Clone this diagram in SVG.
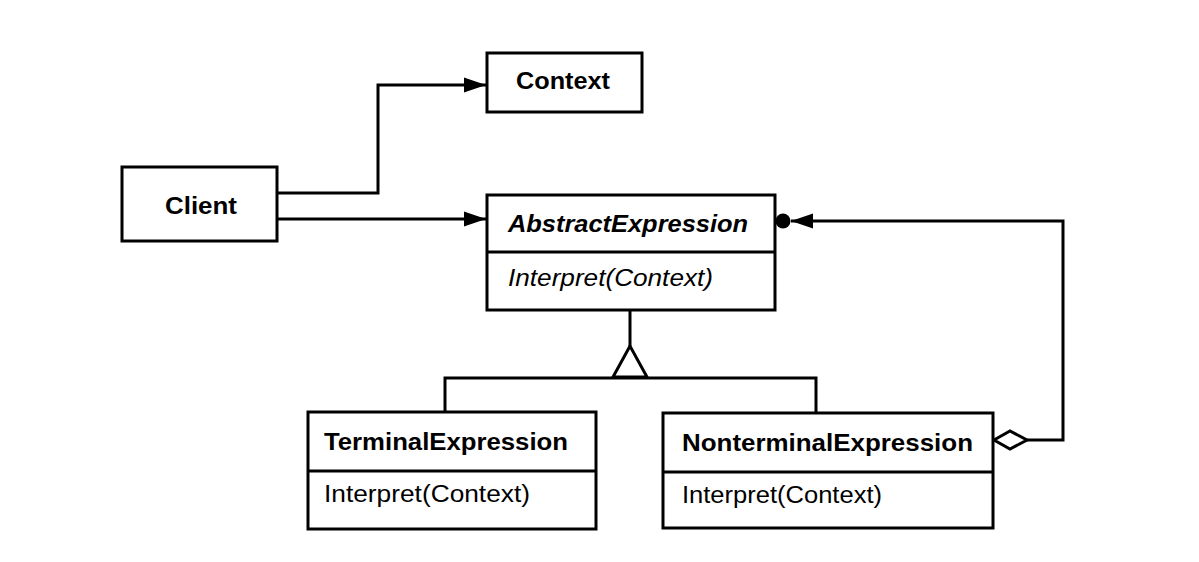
<svg xmlns="http://www.w3.org/2000/svg" width="1199" height="562" viewBox="0 0 1199 562">
<style>
.box{fill:#fff;stroke:#000;stroke-width:3}
.ln{fill:none;stroke:#000;stroke-width:3}
.t{font-family:"Liberation Sans",Arial,sans-serif;font-size:23px;fill:#000}
.b{font-weight:bold}
.i{font-style:italic}
</style>
<defs>
<marker id="arr" markerUnits="userSpaceOnUse" markerWidth="24" markerHeight="16" refX="22" refY="8" orient="auto">
<path d="M0,0.5 L22,8 L0,15.5 Z" fill="#000"/>
</marker>
</defs>
<rect width="1199" height="562" fill="#fff"/>
<g id="connectors">
<path class="ln" d="M277,193 H378 V85 H486" marker-end="url(#arr)"/>
<path class="ln" d="M277,219 H486" marker-end="url(#arr)"/>
<path class="ln" d="M1027,440 H1063 V221 H791" marker-end="url(#arr)"/>
<circle cx="783" cy="221" r="7.5" fill="#000"/>
<path class="ln" d="M994,440 L1010,431 L1027,440 L1010,449 Z" style="fill:#fff"/>
<path class="ln" d="M630,310 V346"/>
<path class="ln" d="M630,346 L613,377 L647,377 Z" style="fill:#fff"/>
<path class="ln" d="M445,412 V378 H816 V413"/>
</g>
<g id="client">
<rect class="box" x="122" y="167" width="155" height="74"/>
<text class="t b" x="201" y="214" text-anchor="middle" textLength="72" lengthAdjust="spacingAndGlyphs">Client</text>
</g>
<g id="context">
<rect class="box" x="487" y="53" width="155" height="59"/>
<text class="t b" x="563" y="89" text-anchor="middle" textLength="94" lengthAdjust="spacingAndGlyphs">Context</text>
</g>
<g id="abstractexpression">
<rect class="box" x="487" y="195" width="288" height="115"/>
<line class="ln" x1="487" y1="252" x2="775" y2="252"/>
<text class="t b i" x="508" y="232" textLength="240" lengthAdjust="spacingAndGlyphs">AbstractExpression</text>
<text class="t i" x="508" y="286" textLength="205" lengthAdjust="spacingAndGlyphs">Interpret(Context)</text>
</g>
<g id="terminalexpression">
<rect class="box" x="308" y="412" width="288" height="117"/>
<line class="ln" x1="308" y1="471" x2="596" y2="471"/>
<text class="t b" x="324" y="450" textLength="244" lengthAdjust="spacingAndGlyphs">TerminalExpression</text>
<text class="t" x="324" y="502" textLength="206" lengthAdjust="spacingAndGlyphs">Interpret(Context)</text>
</g>
<g id="nonterminalexpression">
<rect class="box" x="663" y="413" width="330" height="115"/>
<line class="ln" x1="663" y1="472" x2="993" y2="472"/>
<text class="t b" x="682" y="451" textLength="291" lengthAdjust="spacingAndGlyphs">NonterminalExpression</text>
<text class="t" x="682" y="503" textLength="200" lengthAdjust="spacingAndGlyphs">Interpret(Context)</text>
</g>
</svg>
